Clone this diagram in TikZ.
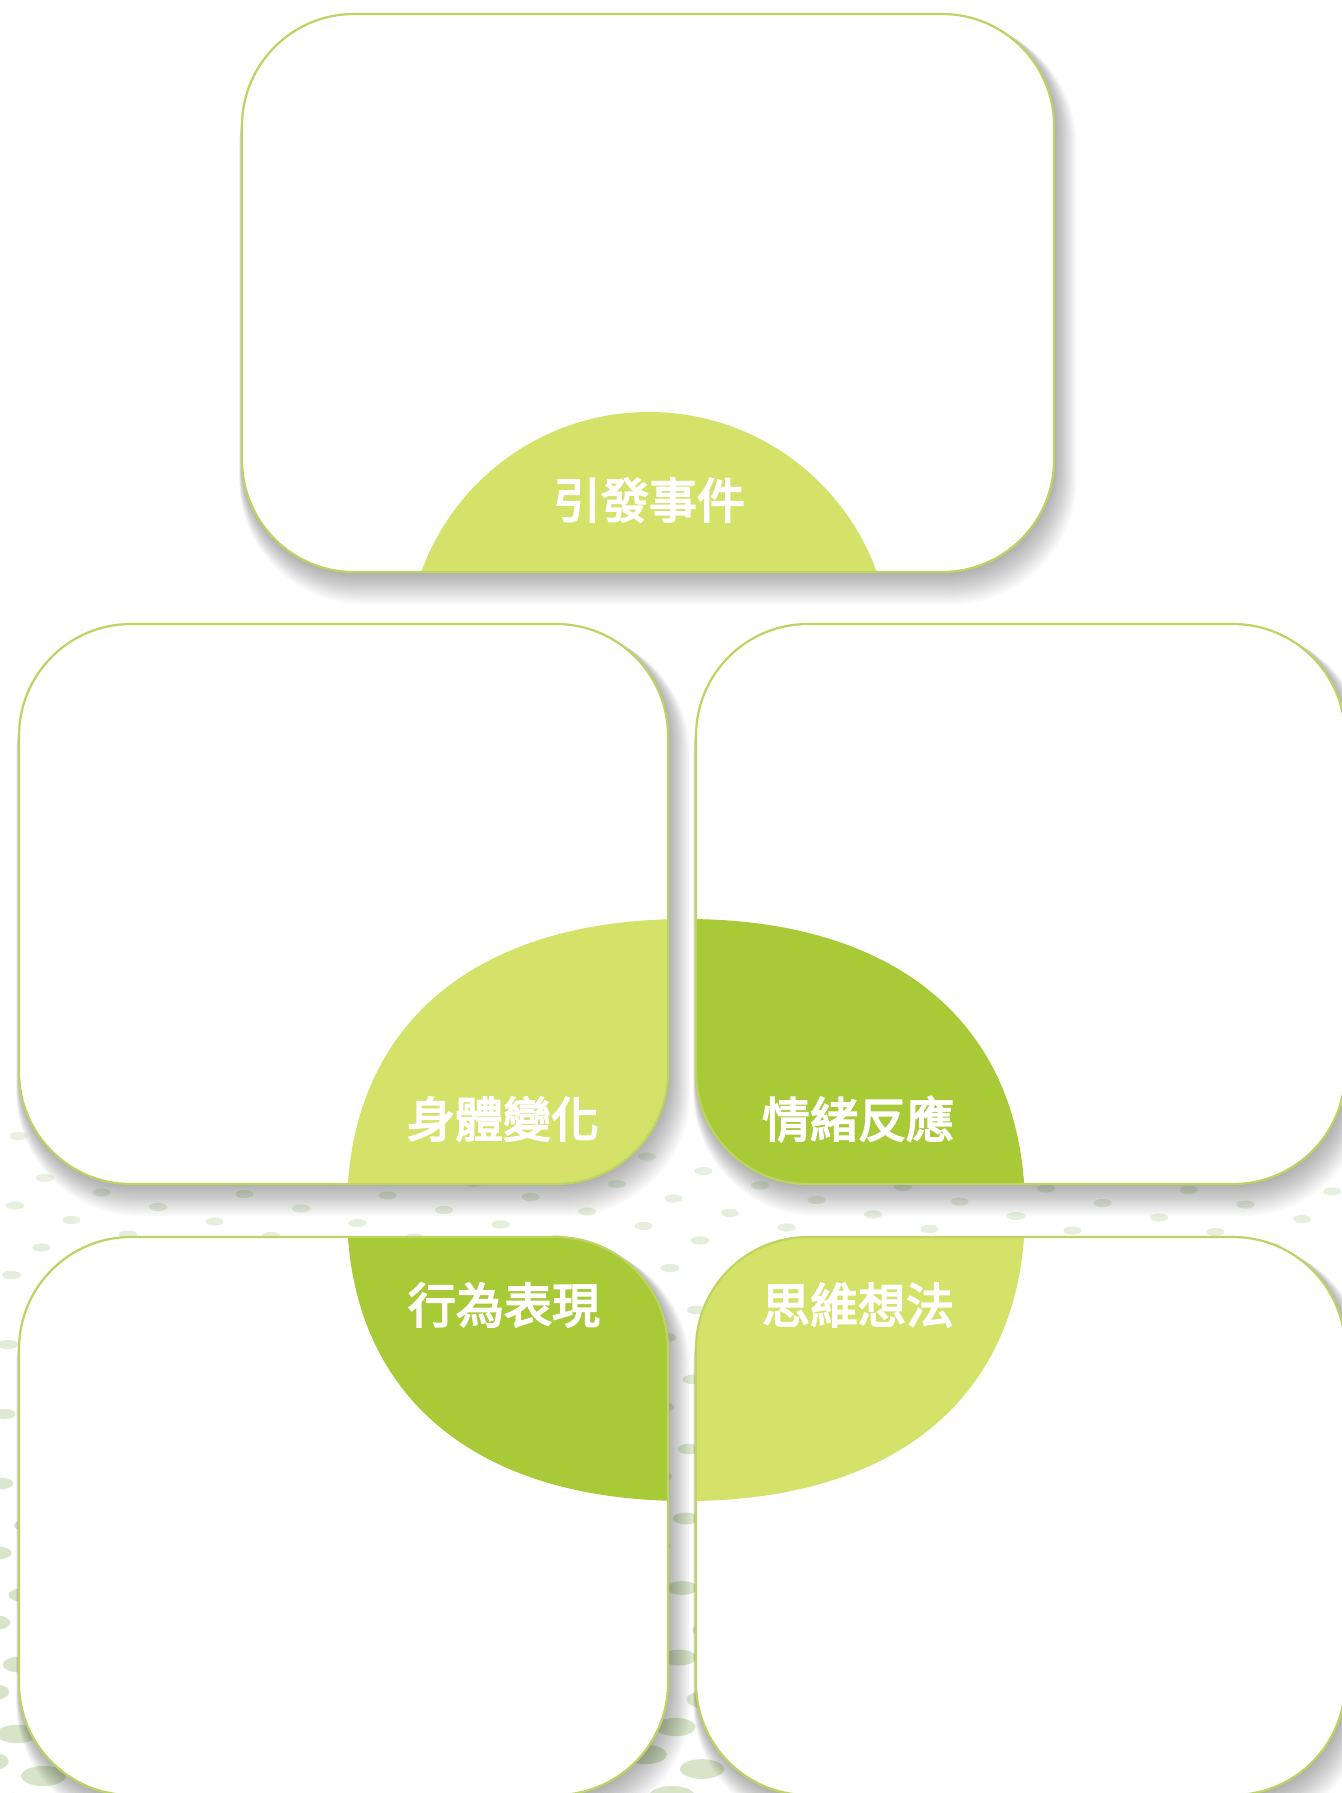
\documentclass[tikz,border=0pt]{standalone}
\usepackage{fontspec}
\newfontfamily\cjk{Noto Sans CJK TC}[FakeBold=3.5]
\definecolor{lightg}{RGB}{213,226,106}
\definecolor{darkg}{RGB}{168,202,55}
\definecolor{boxline}{RGB}{190,211,98}
\definecolor{dotc}{RGB}{205,222,185}
\newcommand\panelshade[4]{%
  \foreach \k in {1,...,14} {
    \fill[shadowlayer, rounded corners={56pt+\k*0.45pt}] ({#1-0.2*\k},{#2+0.5*\k}) rectangle ({#3+1.6*\k},{#4+2.3*\k});
  }}
\begin{document}
\begin{tikzpicture}[x=0.5pt,y=-0.5pt,
  panel/.style={draw=boxline, line width=1.1pt, rounded corners=56pt},
  shadowlayer/.style={fill=black, opacity=0.024},
  tagtext/.style={text=white, font=\cjk\fontsize{24pt}{24pt}\selectfont, inner sep=0pt}]
\useasboundingbox[fill=white] (0,0) rectangle (1341,1793);

% background dots
\foreach \i in {-12,...,30} {
  \foreach \j in {-15,...,30} {
    \pgfmathsetmacro\px{45+56.5*\i-30*\j}
    \pgfmathsetmacro\py{1178+14.5*\i+27.5*\j}
    \pgfmathtruncatemacro\show{((\py>1120+0.05*\px) && (\py<1830) && (\px>-40) && (\px<1380) && ((\py<1250) || (\px<45) || ((\px>640) && (\px<725)))) ? 1 : 0}
    \ifnum\show=1
      \pgfmathsetmacro\rx{0.5*(9+13*(max(0,(\py-1180)/590))^2)}
      \pgfmathsetmacro\ry{0.45*\rx}
      \pgfmathsetmacro\op{min(0.8,0.4+0.4*max(0,(\py-1120)/450))}
      \fill[dotc, opacity=\op] (\px,\py) ellipse [x radius=\rx pt, y radius=\ry pt];
    \fi
  }
}

% soft shadows
\panelshade{242}{14}{1054}{572}
\panelshade{19}{624}{668}{1184}
\panelshade{696}{624}{1345}{1184}
\panelshade{19}{1237}{668}{1795}
\panelshade{696}{1237}{1345}{1795}

% white panels
\fill[white, rounded corners=56pt] (242,14) rectangle (1054,572);
\fill[white, rounded corners=56pt] (19,624) rectangle (668,1184);
\fill[white, rounded corners=56pt] (696,624) rectangle (1345,1184);
\fill[white, rounded corners=56pt] (19,1237) rectangle (668,1795);
\fill[white, rounded corners=56pt] (696,1237) rectangle (1345,1795);

% coloured segments
\begin{scope}
  \clip[rounded corners=56pt] (242,14) rectangle (1054,572);
  \fill[lightg] (649,654) circle (121pt);
\end{scope}
\def\blob{(1025,1210) .. controls (1025,1026.7) and (899.6,919) .. (686,919) .. controls (472.4,919) and (347,1026.7) .. (347,1210) .. controls (347,1393.3) and (472.4,1501) .. (686,1501) .. controls (899.6,1501) and (1025,1393.3) .. (1025,1210) -- cycle}
\begin{scope}
  \clip[rounded corners=56pt] (19,624) rectangle (668,1184);
  \fill[lightg] \blob;
\end{scope}
\begin{scope}
  \clip[rounded corners=56pt] (696,624) rectangle (1345,1184);
  \fill[darkg] \blob;
\end{scope}
\begin{scope}
  \clip[rounded corners=56pt] (19,1237) rectangle (668,1795);
  \fill[darkg] \blob;
\end{scope}
\begin{scope}
  \clip[rounded corners=56pt] (696,1237) rectangle (1345,1795);
  \fill[lightg] \blob;
\end{scope}

% borders
\draw[panel] (242,14) rectangle (1054,572);
\draw[panel] (19,624) rectangle (668,1184);
\draw[panel] (696,624) rectangle (1345,1184);
\draw[panel] (19,1237) rectangle (668,1795);
\draw[panel] (696,1237) rectangle (1345,1795);

% labels
\node[tagtext] (t0) at (649,500) {引發事件};
\node[tagtext] (t1) at (503,1119) {身體變化};
\node[tagtext] (t2) at (858,1119) {情緒反應};
\node[tagtext] (t3) at (504,1305) {行為表現};
\node[tagtext] (t4) at (858,1305) {思維想法};
\end{tikzpicture}
\end{document}
